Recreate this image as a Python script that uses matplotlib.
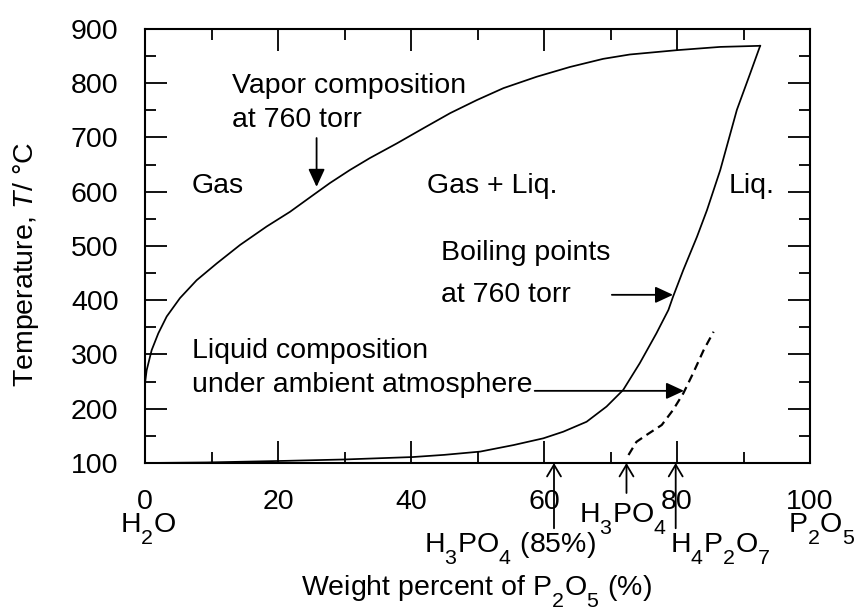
import matplotlib
matplotlib.use("Agg")
import matplotlib.pyplot as plt
import matplotlib._mathtext as _mt

# larger, lower subscripts as in the reference typesetting
_mt.SHRINK_FACTOR = 0.75
_mt.FontConstantsBase.sub1 = 0.8

plt.rcParams['font.family'] = ['Liberation Sans', 'DejaVu Sans']
plt.rcParams['mathtext.fontset'] = 'custom'
plt.rcParams['mathtext.rm'] = 'Liberation Sans'
plt.rcParams['mathtext.it'] = 'Liberation Sans:italic'
plt.rcParams['mathtext.default'] = 'regular'

# ---- data ----
vapor_x = [0, 0.25, 1.0, 2.0, 3.26, 5.26, 7.77, 10.8, 14.3, 18.3, 21.8, 25.3, 27.8,
           30.8, 33.8, 37.85, 41.85, 45.9, 49.9, 53.9, 58.9, 63.9, 68.9, 72.9,
           80, 86.5, 92.5]
vapor_T = [247, 271, 308, 339, 370, 404, 437, 468, 502, 536, 563, 594, 616,
           640, 662, 689, 717, 745, 769, 791, 812, 830, 845, 853,
           861, 867, 869]

boil_x = [0, 9.3, 21.3, 30, 40.3, 45, 50.4, 55.4, 59.9, 62.9, 66.4, 69.4, 71.9,
          74.4, 76.9, 77.4, 78.7, 79.4, 80.95, 83, 84.5, 86.5, 89, 91, 92.5]
boil_T = [100, 101, 104, 106.5, 111, 115, 121, 133, 145.5, 157.7, 176, 204, 234.6,
          284, 339, 351, 382, 406.5, 456, 517, 566, 640, 751, 818, 869]

amb_x = [72.7, 73.9, 75.4, 77.7, 79.4, 80.95, 82.4, 84.0, 85.5]
amb_T = [114.7, 139, 151.6, 170, 197.7, 228.5, 265, 308, 342]

x_ticks = [0, 20, 40, 60, 80, 100]
x_minor = [10, 30, 50, 70, 90]
y_ticks = [100, 200, 300, 400, 500, 600, 700, 800, 900]
y_minor = [150, 250, 350, 450, 550, 650, 750, 850]

compounds_x = [61.5, 72.4, 79.8]   # H3PO4 (85%), H3PO4, H4P2O7

FS = 20.5

fig = plt.figure(figsize=(8.56, 6.08), dpi=100)
ax = fig.add_axes([0.1694, 0.2385, 0.7769, 0.7138])

ax.plot(vapor_x, vapor_T, color='k', lw=1.25, solid_joinstyle='round')
ax.plot(boil_x, boil_T, color='k', lw=1.25, solid_joinstyle='round')
ax.plot(amb_x, amb_T, color='k', lw=1.6, linestyle=(0, (3.8, 2.4)))

ax.set_xlim(0, 100)
ax.set_ylim(100, 900)
ax.set_xticks(x_ticks)
ax.set_xticks(x_minor, minor=True)
ax.set_yticks(y_ticks)
ax.set_yticks(y_minor, minor=True)
ax.tick_params(which='both', direction='in', top=True, right=True, width=1.3,
               labelsize=FS)
ax.tick_params(which='major', length=15.8)
ax.tick_params(which='minor', length=8)
ax.tick_params(axis='x', pad=19)
ax.tick_params(axis='y', pad=19)
for s in ax.spines.values():
    s.set_linewidth(1.5)

ax.set_xlabel('Weight percent of P$_2$O$_5$ (%)', fontsize=FS, va='baseline')
ax.xaxis.set_label_coords(0.499, -0.304)
ax.set_ylabel('Temperature, $\\mathit{T}$/ \u00b0C', fontsize=FS, va='center')
ax.yaxis.set_label_coords(-0.179, 0.457)

# region labels
ax.text(13.1, 782, 'Vapor composition', fontsize=FS, va='baseline')
ax.text(13.1, 719, 'at 760 torr', fontsize=FS, va='baseline')
ax.text(7.07, 598, 'Gas', fontsize=FS, va='baseline')
ax.text(42.4, 598, 'Gas + Liq.', fontsize=FS, va='baseline')
ax.text(87.7, 598, 'Liq.', fontsize=FS, va='baseline')
ax.text(44.5, 474, 'Boiling points', fontsize=FS, va='baseline')
ax.text(44.5, 397, 'at 760 torr', fontsize=FS, va='baseline')
ax.text(7.0, 293.5, 'Liquid composition', fontsize=FS, va='baseline')
ax.text(7.0, 231, 'under ambient atmosphere', fontsize=FS, va='baseline')

filled = dict(arrowstyle='-|>,head_length=0.54,head_width=0.25', color='k',
              lw=1.3, shrinkA=0, shrinkB=0, mutation_scale=20)
ax.annotate('', xy=(25.8, 609), xytext=(25.8, 699), arrowprops=filled)
ax.annotate('', xy=(79.4, 410), xytext=(70.2, 410), arrowprops=filled)
ax.annotate('', xy=(81.05, 233), xytext=(58.6, 233), arrowprops=filled)

openarr = dict(arrowstyle='->,head_length=0.42,head_width=0.25', color='k',
               lw=1.3, shrinkA=0, shrinkB=0, mutation_scale=20)
tails = [-47, -21.6, -47]
for cx, off in zip(compounds_x, tails):
    ax.annotate('', xy=(cx, 100), xytext=(0, off), textcoords='offset points',
                arrowprops=openarr, annotation_clip=False)

tr = ax.get_xaxis_transform()
ax.text(54.9, -0.205, 'H$_3$PO$_4$ (85%)', transform=tr, fontsize=FS,
        ha='center', va='baseline')
ax.text(71.9, -0.135, 'H$_3$PO$_4$', transform=tr, fontsize=FS,
        ha='center', va='baseline')
ax.text(78.9, -0.205, 'H$_4$P$_2$O$_7$', transform=tr, fontsize=FS,
        ha='left', va='baseline')
ax.text(0.45, -0.158, 'H$_2$O', transform=tr, fontsize=FS,
        ha='center', va='baseline')
ax.text(101.7, -0.158, 'P$_2$O$_5$', transform=tr, fontsize=FS,
        ha='center', va='baseline')

fig.savefig('out.png', dpi=100)
